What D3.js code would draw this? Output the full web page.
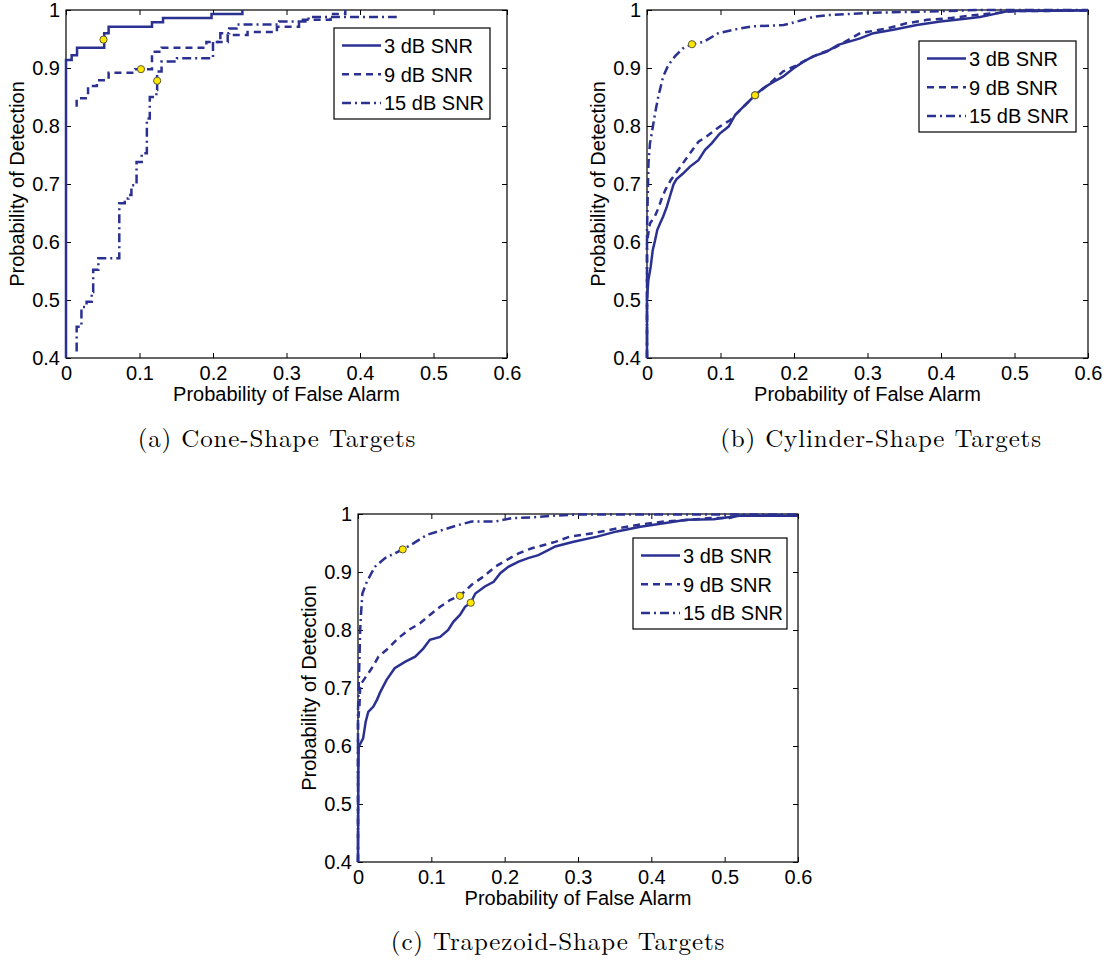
<!DOCTYPE html>
<html><head><meta charset="utf-8">
<script src="https://cdn.jsdelivr.net/npm/d3@7"></script>
<style>body{margin:0;background:#fff}svg{display:block}</style>
</head><body><svg id="c" width="1110" height="960"></svg>
<script>
// ---------- tick labels / text ----------
const xTickValues = [0, 0.1, 0.2, 0.3, 0.4, 0.5, 0.6];
const xTickLabels = ["0", "0.1", "0.2", "0.3", "0.4", "0.5", "0.6"];
const yTickValues = [0.4, 0.5, 0.6, 0.7, 0.8, 0.9, 1];
const yTickLabels = ["0.4", "0.5", "0.6", "0.7", "0.8", "0.9", "1"];
const seriesNames = ["3 dB SNR", "9 dB SNR", "15 dB SNR"];
const xTitle = "Probability of False Alarm";
const yTitle = "Probability of Detection";
const captions = ["(a) Cone-Shape Targets", "(b) Cylinder-Shape Targets", "(c) Trapezoid-Shape Targets"];

// ---------- data: [false alarm, detection] ----------
const coneSNR3 = [[0,0.40],[0,0.914],[0.0077,0.922],[0.015,0.935],[0.052,0.960],[0.058,0.971],[0.117,0.979],[0.132,0.986],[0.198,0.993],[0.240,1.0]];
const coneSNR9 = [[0.0145,0.833],[0.0145,0.848],[0.030,0.869],[0.042,0.879],[0.058,0.892],[0.094,0.898],[0.117,0.928],[0.130,0.935],[0.191,0.945],[0.22,0.957],[0.247,0.962],[0.287,0.971],[0.317,0.983],[0.36,0.993],[0.38,1.0]];
const coneSNR15 = [[0.0145,0.411],[0.0145,0.454],[0.021,0.488],[0.028,0.497],[0.035,0.514],[0.037,0.552],[0.044,0.572],[0.0725,0.667],[0.080,0.675],[0.085,0.681],[0.089,0.698],[0.096,0.738],[0.103,0.753],[0.110,0.813],[0.114,0.850],[0.123,0.862],[0.124,0.894],[0.130,0.911],[0.151,0.917],[0.20,0.945],[0.21,0.960],[0.222,0.968],[0.232,0.975],[0.29,0.980],[0.33,0.988],[0.45,0.988]];
const coneMarkers = [[0.051,0.949],[0.102,0.898],[0.124,0.878]];

const cylSNR3 = [[0,0.40],[0,0.50],[0.0018,0.534],[0.005,0.557],[0.0078,0.586],[0.011,0.603],[0.014,0.621],[0.0177,0.632],[0.022,0.644],[0.027,0.661],[0.031,0.678],[0.036,0.699],[0.040,0.708],[0.049,0.718],[0.0585,0.730],[0.070,0.741],[0.079,0.759],[0.088,0.770],[0.099,0.787],[0.111,0.799],[0.120,0.819],[0.131,0.833],[0.147,0.853],[0.158,0.865],[0.172,0.876],[0.185,0.885],[0.199,0.899],[0.213,0.911],[0.226,0.920],[0.244,0.928],[0.260,0.940],[0.290,0.951],[0.308,0.960],[0.335,0.966],[0.367,0.974],[0.399,0.980],[0.421,0.983],[0.453,0.988],[0.480,0.995],[0.49,0.998],[0.6,0.999]];
const cylSNR9 = [[0,0.40],[0,0.60],[0.004,0.632],[0.011,0.645],[0.016,0.66],[0.020,0.675],[0.025,0.69],[0.032,0.706],[0.040,0.72],[0.049,0.736],[0.0585,0.753],[0.070,0.773],[0.081,0.782],[0.099,0.799],[0.113,0.810],[0.127,0.828],[0.147,0.853],[0.160,0.866],[0.172,0.879],[0.185,0.894],[0.204,0.905],[0.217,0.914],[0.235,0.925],[0.249,0.931],[0.258,0.937],[0.29,0.96],[0.326,0.968],[0.353,0.977],[0.381,0.983],[0.412,0.986],[0.444,0.991],[0.476,0.995],[0.50,0.998],[0.6,0.999]];
const cylSNR15 = [[0,0.40],[0,0.62],[0.001,0.678],[0.002,0.736],[0.004,0.770],[0.0064,0.787],[0.011,0.822],[0.0154,0.851],[0.022,0.885],[0.029,0.905],[0.038,0.920],[0.049,0.934],[0.0612,0.941],[0.077,0.945],[0.097,0.960],[0.122,0.967],[0.145,0.972],[0.186,0.974],[0.204,0.980],[0.226,0.988],[0.244,0.991],[0.30,0.995],[0.40,0.998],[0.45,1.0],[0.6,1.0]];
const cylMarkers = [[0.147,0.853],[0.147,0.853],[0.0612,0.941]];

const trapSNR3 = [[0,0.40],[0.0005,0.559],[0.001,0.599],[0.007,0.613],[0.0105,0.642],[0.014,0.659],[0.021,0.668],[0.026,0.680],[0.030,0.692],[0.039,0.714],[0.050,0.734],[0.064,0.745],[0.078,0.754],[0.089,0.768],[0.098,0.783],[0.112,0.788],[0.123,0.800],[0.130,0.814],[0.139,0.826],[0.146,0.840],[0.1537,0.847],[0.160,0.863],[0.173,0.875],[0.185,0.883],[0.194,0.898],[0.205,0.909],[0.219,0.918],[0.232,0.924],[0.246,0.929],[0.260,0.938],[0.269,0.944],[0.294,0.952],[0.326,0.961],[0.353,0.970],[0.385,0.978],[0.417,0.984],[0.448,0.990],[0.485,0.991],[0.507,0.995],[0.521,0.997],[0.6,0.997]];
const trapSNR9 = [[0,0.40],[0,0.64],[0.002,0.67],[0.003,0.705],[0.0095,0.717],[0.0187,0.734],[0.028,0.754],[0.041,0.768],[0.055,0.786],[0.069,0.800],[0.085,0.812],[0.098,0.826],[0.112,0.840],[0.126,0.852],[0.139,0.859],[0.155,0.878],[0.171,0.892],[0.187,0.909],[0.203,0.921],[0.219,0.932],[0.237,0.941],[0.255,0.947],[0.269,0.952],[0.289,0.961],[0.321,0.967],[0.353,0.975],[0.385,0.982],[0.417,0.987],[0.453,0.990],[0.48,0.993],[0.507,0.993],[0.517,0.997],[0.6,0.998]];
const trapSNR15 = [[0,0.40],[0,0.66],[0.002,0.75],[0.003,0.80],[0.004,0.826],[0.006,0.863],[0.012,0.883],[0.023,0.909],[0.037,0.924],[0.061,0.939],[0.075,0.949],[0.094,0.964],[0.114,0.972],[0.137,0.981],[0.155,0.987],[0.187,0.987],[0.210,0.993],[0.237,0.994],[0.264,0.997],[0.30,0.999],[0.6,0.999]];
const trapMarkers = [[0.1537,0.847],[0.139,0.859],[0.061,0.939]];

// ---------- layout ----------
const panels = [
  {id:"a", left:66, top:10, w:441, h:348, step:true, series:[coneSNR3,coneSNR9,coneSNR15], markers:coneMarkers, caption:captions[0], capX:277, capY:438, leg:{dx:268, dy:18, w:156, h:91}},
  {id:"b", left:647, top:10, w:441, h:348, step:false, series:[cylSNR3,cylSNR9,cylSNR15], markers:cylMarkers, caption:captions[1], capX:881, capY:438, leg:{dx:272, dy:31, w:157, h:91}},
  {id:"c", left:358, top:514, w:440, h:348, step:false, series:[trapSNR3,trapSNR9,trapSNR15], markers:trapMarkers, caption:captions[2], capX:558, capY:941, leg:{dx:275, dy:24, w:154, h:91}}
];

const LINE = "#2b3190";
const DASH = [null, "7,5", "9,4,2,4"];
const SANS = "'Liberation Sans', Arial, Helvetica, sans-serif";
const SERIF = "'Latin Modern Roman','CMU Serif','DejaVu Serif',serif";

const svg = d3.select("#c");

panels.forEach(p => {
  const g = svg.append("g").attr("transform", `translate(${p.left},${p.top})`);
  const x = d3.scaleLinear().domain([0, 0.6]).range([0, p.w]);
  const y = d3.scaleLinear().domain([0.4, 1]).range([p.h, 0]);

  g.append("rect").attr("width", p.w).attr("height", p.h).attr("fill", "#fff");

  const fmtX = (d) => xTickLabels[xTickValues.findIndex(v => Math.abs(v - d) < 1e-9)];
  const fmtY = (d) => yTickLabels[yTickValues.findIndex(v => Math.abs(v - d) < 1e-9)];

  const axB = g.append("g").attr("transform", `translate(0,${p.h})`)
    .call(d3.axisBottom(x).tickValues(xTickValues).tickFormat(fmtX).tickSizeInner(-5).tickSizeOuter(0).tickPadding(8));
  const axT = g.append("g")
    .call(d3.axisTop(x).tickValues(xTickValues).tickFormat("").tickSizeInner(-5).tickSizeOuter(0));
  const axL = g.append("g")
    .call(d3.axisLeft(y).tickValues(yTickValues).tickFormat(fmtY).tickSizeInner(-5).tickSizeOuter(0).tickPadding(6));
  const axR = g.append("g").attr("transform", `translate(${p.w},0)`)
    .call(d3.axisRight(y).tickValues(yTickValues).tickFormat("").tickSizeInner(-5).tickSizeOuter(0));
  [axB, axT, axL, axR].forEach(a => {
    a.select(".domain").remove();
    a.selectAll("line").attr("stroke", "#000").attr("stroke-width", 1);
    a.selectAll("text").attr("font-family", SANS).attr("font-size", 20).attr("fill", "#000");
  });
  g.append("rect").attr("width", p.w).attr("height", p.h).attr("fill", "none").attr("stroke", "#000").attr("stroke-width", 1.2);

  const cid = "clip" + p.id;
  g.append("clipPath").attr("id", cid).append("rect").attr("x", -2).attr("y", -2).attr("width", p.w + 4).attr("height", p.h + 4);

  const line = d3.line().x(d => x(d[0])).y(d => y(d[1])).curve(p.step ? d3.curveStepAfter : d3.curveLinear);
  p.series.forEach((s, i) => {
    g.append("path").datum(s).attr("d", line).attr("fill", "none").attr("stroke", LINE)
      .attr("stroke-width", 2.5).attr("stroke-dasharray", DASH[i]).attr("stroke-linejoin", "miter")
      .attr("clip-path", `url(#${cid})`);
  });
  g.selectAll("circle.mk").data(p.markers).enter().append("circle").attr("class", "mk")
    .attr("cx", d => x(d[0])).attr("cy", d => y(d[1])).attr("r", 3.6)
    .attr("fill", "#ffe600").attr("stroke", "#5a5a3a").attr("stroke-width", 1);

  // legend
  const lg = g.append("g").attr("transform", `translate(${p.leg.dx},${p.leg.dy})`);
  lg.append("rect").attr("width", p.leg.w).attr("height", p.leg.h).attr("fill", "#fff").attr("stroke", "#000").attr("stroke-width", 1.2);
  seriesNames.forEach((n, i) => {
    const yy = 17.5 + i * 28.8;
    lg.append("line").attr("x1", 8).attr("x2", 47).attr("y1", yy).attr("y2", yy)
      .attr("stroke", LINE).attr("stroke-width", 2.5).attr("stroke-dasharray", DASH[i]);
    lg.append("text").attr("x", 50).attr("y", yy).attr("dy", "0.36em").attr("font-family", SANS).attr("font-size", 20).text(n);
  });

  // titles
  g.append("text").attr("x", p.w / 2).attr("y", p.h + 36).attr("dy", "0.36em").attr("text-anchor", "middle")
    .attr("font-family", SANS).attr("font-size", 20).text(xTitle);
  g.append("text").attr("transform", `translate(-49,${p.h / 2}) rotate(-90)`).attr("dy", "0.36em").attr("text-anchor", "middle")
    .attr("font-family", SANS).attr("font-size", 20).text(yTitle);
  svg.append("text").attr("x", p.capX).attr("y", p.capY).attr("dy", "0.36em").attr("text-anchor", "middle")
    .attr("font-family", SERIF).attr("font-size", 25).attr("letter-spacing", 0.85).text(p.caption);
});
</script></body></html>
